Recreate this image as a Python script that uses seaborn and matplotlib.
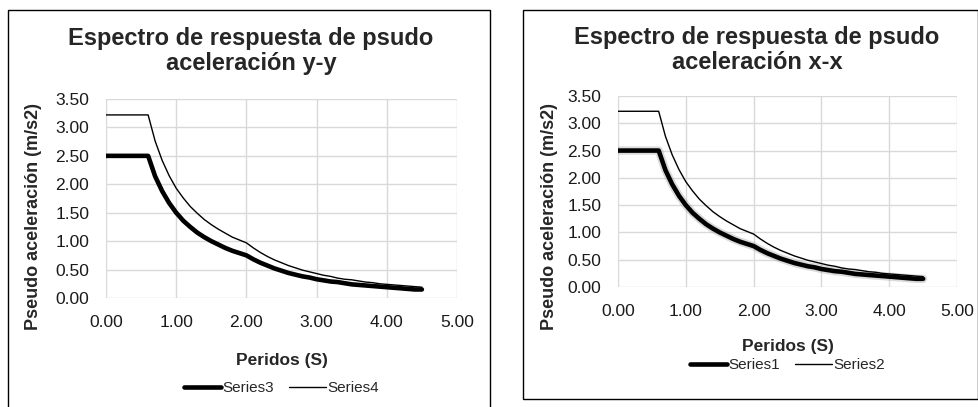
import numpy as np
import pandas as pd
import seaborn as sns
from matplotlib import pyplot as plt
from matplotlib.lines import Line2D
from matplotlib.patches import Rectangle

# periods (s)
periodos = [0.0, 0.1, 0.2, 0.3, 0.4, 0.5, 0.6, 0.7, 0.8, 0.9,
            1.0, 1.1, 1.2, 1.3, 1.4, 1.5, 1.6, 1.7, 1.8, 1.9,
            2.0, 2.1, 2.2, 2.3, 2.4, 2.5, 2.6, 2.7, 2.8, 2.9,
            3.0, 3.1, 3.2, 3.3, 3.4, 3.5, 3.6, 3.7, 3.8, 3.9,
            4.0, 4.1, 4.2, 4.3, 4.4, 4.5]

# thick curve (Series1 / Series3)
sa_bajo = [2.50, 2.50, 2.50, 2.50, 2.50, 2.50, 2.50, 2.14, 1.88, 1.67,
           1.50, 1.36, 1.25, 1.15, 1.07, 1.00, 0.94, 0.88, 0.83, 0.79,
           0.75, 0.68, 0.62, 0.57, 0.52, 0.48, 0.44, 0.41, 0.38, 0.36,
           0.33, 0.31, 0.29, 0.28, 0.26, 0.24, 0.23, 0.22, 0.21, 0.20,
           0.19, 0.18, 0.17, 0.16, 0.15, 0.15]

# thin curve (Series2 / Series4)
sa_alto = [3.22, 3.22, 3.22, 3.22, 3.22, 3.22, 3.22, 2.76, 2.42, 2.15,
           1.93, 1.76, 1.61, 1.49, 1.38, 1.29, 1.21, 1.14, 1.07, 1.02,
           0.97, 0.88, 0.80, 0.73, 0.67, 0.62, 0.57, 0.53, 0.49, 0.46,
           0.43, 0.40, 0.38, 0.35, 0.33, 0.32, 0.30, 0.28, 0.27, 0.25,
           0.24, 0.23, 0.22, 0.21, 0.20, 0.19]

xticks = [0, 1, 2, 3, 4, 5]
yticks = [0, 0.5, 1, 1.5, 2, 2.5, 3, 3.5]

sns.set_style("white")
plt.rcParams['font.family'] = ['Liberation Sans', 'DejaVu Sans']

W, H = 979, 407
fig = plt.figure(figsize=(W / 100, H / 100), dpi=100)


def px_axes(x0, y0, x1, y1):
    # pixel box (top-left origin) -> figure axes
    return fig.add_axes([x0 / W, 1 - y1 / H, (x1 - x0) / W, (y1 - y0) / H])


def panel_box(x0, y0, x1, y1):
    fig.patches.append(Rectangle((x0 / W, 1 - y1 / H), (x1 - x0) / W, (y1 - y0) / H,
                                 transform=fig.transFigure, fill=False,
                                 edgecolor='black', linewidth=1.0))


def draw_chart(box, title, title_xy, names, ylab_xy, xlab_y, leg_y, shadow=False):
    x0, y0, x1, y1 = box
    ax = px_axes(x0, y0, x1, y1)
    df = pd.DataFrame({'T': periodos, 'bajo': sa_bajo, 'alto': sa_alto})
    if shadow:
        sns.lineplot(data=df, x='T', y='bajo', ax=ax, color='#999999', lw=6, alpha=0.35)
    sns.lineplot(data=df, x='T', y='bajo', ax=ax, color='black', lw=3.3)
    sns.lineplot(data=df, x='T', y='alto', ax=ax, color='black', lw=1.0)
    ax.set_xlim(0, 5)
    ax.set_ylim(0, 3.5)
    ax.set_xticks(xticks)
    ax.set_yticks(yticks)
    ax.set_xticklabels([f'{v:.2f}' for v in xticks])
    ax.set_yticklabels([f'{v:.2f}' for v in yticks])
    ax.tick_params(labelsize=12.5, colors='#1a1a1a', pad=12, length=0)
    ax.grid(True, color='#d9d9d9', lw=1.0)
    ax.set_axisbelow(True)
    for s in ax.spines.values():
        s.set_visible(False)
    ax.set_xlabel('')
    ax.set_ylabel('')
    pw, ph = x1 - x0, y1 - y0
    ax.text((ylab_xy[0] - x0) / pw, (y1 - ylab_xy[1]) / ph, 'Pseudo aceleración (m/s2)',
            transform=ax.transAxes, rotation=90, ha='center', va='center',
            fontsize=13, fontweight='bold')
    ax.text(0.5, (y1 - xlab_y) / ph, 'Peridos (S)', transform=ax.transAxes,
            ha='center', va='center', fontsize=12.5, fontweight='bold')
    fig.text(title_xy[0] / W, 1 - title_xy[1] / H, title, ha='center', va='center',
             fontsize=17, fontweight='bold', linespacing=1.15)
    handles = [Line2D([], [], color='black', lw=3.3), Line2D([], [], color='black', lw=1.0)]
    ax.legend(handles, names, loc='center', bbox_to_anchor=(0.5, (y1 - leg_y) / ph),
              ncol=2, frameon=False, fontsize=11, handlelength=2.4, handletextpad=0.1,
              columnspacing=1.0)
    return ax


panel_box(8, 10, 490, 420)
panel_box(523, 10, 978, 399)

draw_chart((106, 99, 457, 298), 'Espectro de respuesta de psudo\naceleración y-y', (251, 51),
           ['Series3', 'Series4'], (34, 217), 360, 388)
draw_chart((618, 96, 957, 287), 'Espectro de respuesta de psudo\naceleración x-x', (757, 50),
           ['Series1', 'Series2'], (549, 216), 347, 365, shadow=True)

fig.savefig('out.png', dpi=100)
